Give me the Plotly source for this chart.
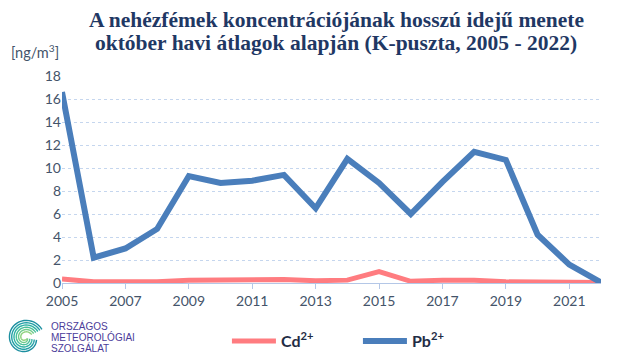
import numpy as np
import plotly.graph_objects as go

years = list(range(2005, 2023))
cd = [0.35, 0.1, 0.1, 0.1, 0.25, 0.3, 0.3, 0.3, 0.2, 0.25, 1.0, 0.15, 0.25, 0.25, 0.1, 0.1, 0.1, 0.05]
pb = [16.6, 2.2, 3.0, 4.7, 9.3, 8.7, 8.9, 9.4, 6.5, 10.8, 8.7, 6.0, 8.8, 11.4, 10.7, 4.2, 1.6, 0.05]
tick_years = list(range(2005, 2022, 2))
y_ticks = list(range(0, 19, 2))
title_lines = ["A nehézfémek koncentrációjának hosszú idejű menete",
               "október havi átlagok alapján (K-puszta, 2005 - 2022)"]
logo_lines = ["ORSZÁGOS", "METEOROLÓGIAI", "SZOLGÁLAT"]

L, T, R, B = 54, 68, 47, 85
PW, PH = 640 - L - R, 360 - T - B

fig = go.Figure()
fig.add_trace(go.Scatter(x=years, y=cd, mode="lines", name="Cd<sup>2+</sup>",
                         line=dict(color="#FF7C80", width=5)))
fig.add_trace(go.Scatter(x=years, y=pb, mode="lines", name="Pb<sup>2+</sup>",
                         line=dict(color="#4A7EBB", width=6)))

tick_font = dict(family="Lato, Liberation Sans, sans-serif", size=14, color="#44546A")

fig.update_layout(
    width=640, height=360,
    margin=dict(l=L, r=R, t=T, b=B),
    paper_bgcolor="white", plot_bgcolor="white",
    xaxis=dict(range=[2005, 2022], tickmode="array", tickvals=tick_years,
               ticktext=[str(y) for y in tick_years], showgrid=False,
               showline=True, linecolor="#B4C7E7", linewidth=1,
               ticks="outside", tickcolor="#B4C7E7", ticklen=5, tickfont=tick_font,
               zeroline=False, fixedrange=True),
    yaxis=dict(range=[0, 18], tickmode="array", tickvals=y_ticks, showgrid=True,
               gridcolor="#C5D6EE", griddash="dot", gridwidth=1, zeroline=False,
               tickfont=tick_font, ticks="", showline=False),
    legend=dict(orientation="h", x=0.306, xanchor="left", y=0.075, yanchor="middle",
                yref="container",
                font=dict(family="Lato, Liberation Sans, sans-serif", size=16, color="#1F2D45", weight="bold"),
                entrywidth=72, itemwidth=44),
    showlegend=True,
)

def px_x(x):
    return (x - L) / PW

def px_y(y):
    return (T + PH - y) / PH

for line, yy in zip(title_lines, [12, 35]):
    fig.add_annotation(text=line, xref="paper", yref="paper", x=px_x(328), y=px_y(yy),
                       xanchor="center", yanchor="middle", showarrow=False,
                       font=dict(family="Liberation Serif, serif", size=21.5, color="#1F3864", weight="bold"))

fig.add_annotation(text="[ng/m<sup>3</sup>]", xref="paper", yref="paper", x=px_x(1), y=px_y(44),
                   xanchor="left", yanchor="middle", showarrow=False,
                   font=dict(family="Lato, Liberation Sans, sans-serif", size=14.5, color="#44546A"))

for line, yy in zip(logo_lines, [318, 329, 340]):
    fig.add_annotation(text=line, xref="paper", yref="paper",
                       x=px_x(41), y=px_y(yy), xanchor="left", yanchor="middle", showarrow=False,
                       font=dict(family="Liberation Sans, sans-serif", size=10, color="#4B3C9A"))

# spiral logo (decoration)
cx, cy = 17, 330
cols = ["#1C8FA0", "#22A0A6", "#2FB2A4", "#4CC09A", "#6FCB8C", "#8FD27E"]
for i, col in enumerate(cols):
    th = np.linspace(np.pi * 0.15, np.pi * 1.95, 40)
    r = (19 - i * 2.3) - (th - th[0]) * 1.3
    r = np.clip(r, 2, None)
    xs = cx + r * np.cos(th)
    ys = cy - r * np.sin(th)
    path = "M " + " L ".join(f"{px_x(a):.5f},{px_y(b):.5f}" for a, b in zip(xs, ys))
    fig.add_shape(type="path", path=path, xref="paper", yref="paper", layer="above",
                  line=dict(color=col, width=1.4))

fig.write_html("out.html")
